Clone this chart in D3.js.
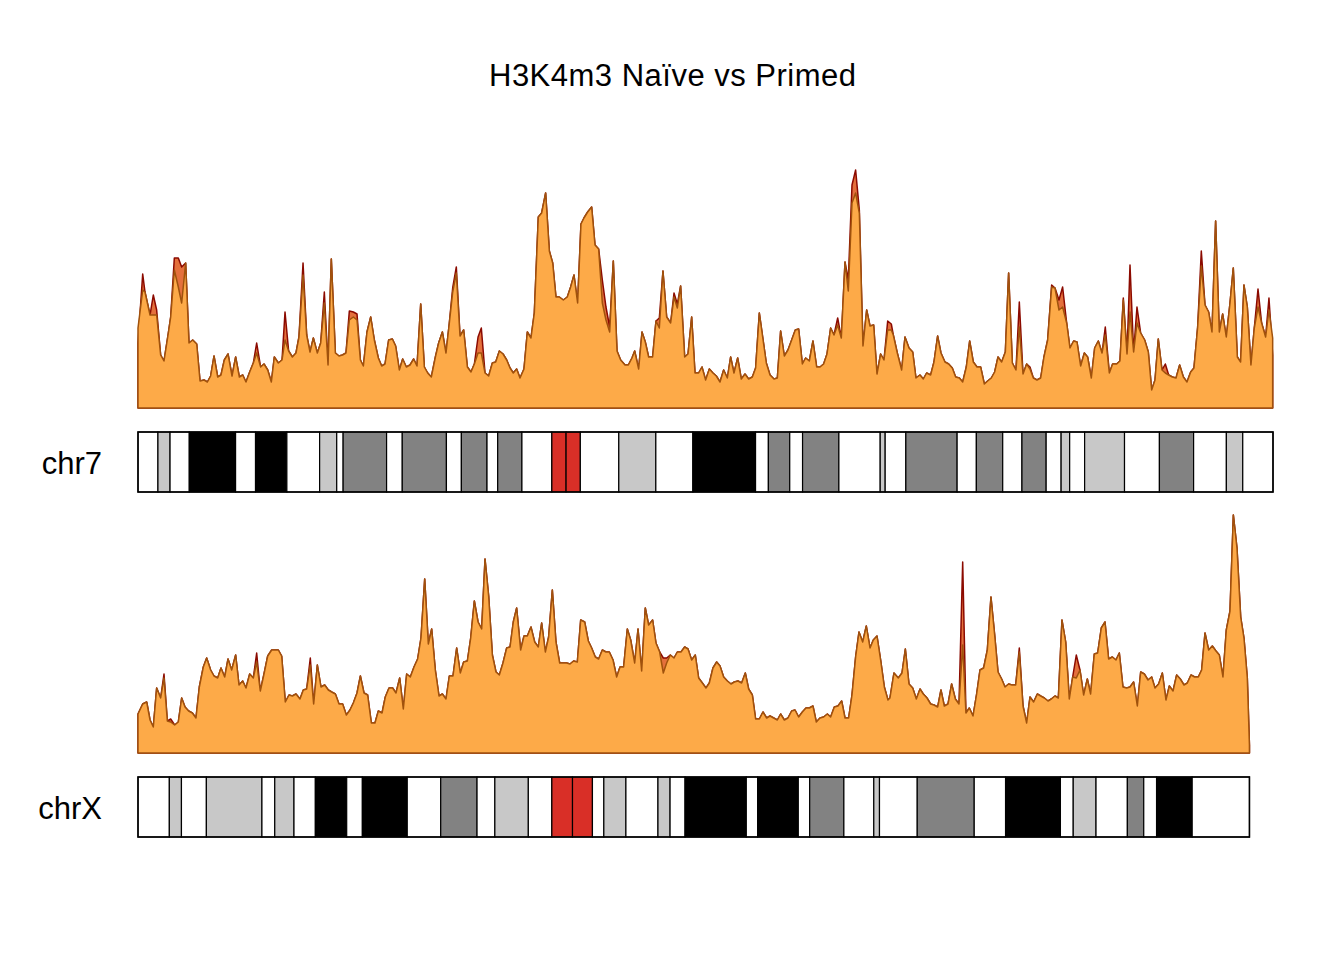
<!DOCTYPE html>
<html>
<head>
<meta charset="utf-8">
<script src="https://cdn.jsdelivr.net/npm/d3@7"></script>
<style>
  html, body { margin: 0; padding: 0; background: #ffffff; }
  svg { display: block; }
  text { font-family: "Liberation Sans", Arial, Helvetica, sans-serif; fill: #000; }
</style>
</head>
<body>
<svg id="chart" width="1344" height="960"></svg>
<script>
// ---------------- DATA ----------------
const title = "H3K4m3 Naïve vs Primed";
const chromNames = ["chr7", "chrX"];
const chromLengths = [159.345973, 156.040895]; // Mb (hg38)

// chr7 cytobands (end positions in Mb, stains)
const chr7BandEnd = [2.8, 4.5, 7.2, 13.7, 16.5, 20.9, 25.5, 27.9, 28.8, 34.9, 37.1, 43.3, 45.4, 49.0, 50.5, 53.9, 58.1, 60.1, 62.1, 67.5, 72.7, 77.9, 86.7, 88.5, 91.5, 93.3, 98.4, 104.2, 104.9, 107.8, 115.0, 117.7, 121.4, 124.1, 127.5, 129.6, 130.8, 132.9, 138.5, 143.4, 148.2, 152.8, 155.1, 159.345973];
const chr7BandStain = ["gneg","gpos25","gneg","gpos100","gneg","gpos100","gneg","gpos50","gneg","gpos75","gneg","gpos75","gneg","gpos75","gneg","gpos75","gneg","acen","acen","gneg","gpos50","gneg","gpos100","gneg","gpos75","gneg","gpos75","gneg","gpos50","gneg","gpos75","gneg","gpos75","gneg","gpos75","gneg","gpos25","gneg","gpos50","gneg","gpos75","gneg","gpos25","gneg"];

// chrX cytobands
const chrXBandEnd = [4.4, 6.1, 9.6, 17.4, 19.2, 21.9, 24.9, 29.3, 31.5, 37.8, 42.5, 47.6, 50.1, 54.8, 58.1, 61.0, 63.8, 65.4, 68.5, 73.0, 74.7, 76.8, 85.4, 87.0, 92.7, 94.3, 99.1, 103.3, 104.1, 109.4, 117.4, 121.8, 129.5, 131.3, 134.5, 138.9, 141.2, 143.0, 148.0, 156.040895];
const chrXBandStain = ["gneg","gpos50","gneg","gpos50","gneg","gpos50","gneg","gpos100","gneg","gpos100","gneg","gpos75","gneg","gpos25","gneg","acen","acen","gneg","gpos50","gneg","gpos50","gneg","gpos100","gneg","gpos100","gneg","gpos75","gneg","gpos50","gneg","gpos75","gneg","gpos100","gneg","gpos25","gneg","gpos75","gneg","gpos100","gneg"];

// chr7 peak density (window positions in Mb; relative density values)
const chr7Pos = [
0,0.66,0.98,1.69,2.15,2.62,3.18,3.65,4.26,4.59,
5.10,5.66,6.13,6.69,7.16,7.68,8.24,8.71,9.27,9.74,
10.20,10.67,11.19,11.65,12.12,12.64,13.20,13.71,14.23,14.70,
15.16,15.68,16.19,16.66,17.22,17.69,18.21,18.72,19.14,19.70,
20.22,20.64,21.15,21.67,22.18,22.60,23.17,23.68,24.15,24.62,
25.18,25.65,26.16,26.68,27.14,27.71,28.22,28.71,29.20,29.67,
30.23,30.75,31.22,31.64,32.15,32.67,33.18,33.74,34.21,34.68,
35.19,35.71,36.17,36.69,37.16,37.67,38.19,38.70,39.17,39.69,
40.20,40.67,41.18,41.75,42.21,42.73,43.24,43.71,44.18,44.69,
45.21,45.72,46.24,46.75,47.22,47.74,48.20,48.72,49.23,49.75,
50.22,50.73,51.25,51.76,
52.23,52.69,53.16,53.63,54.19,54.66,55.17,55.64,56.20,56.67,
57.23,57.75,58.22,58.68,59.15,59.71,60.27,60.74,61.21,61.72,
62.19,62.61,63.13,63.69,64.16,64.67,65.19,65.70,66.22,66.73,
67.25,67.76,68.37,68.84,69.35,69.73,70.29,70.76,71.22,71.69,
72.25,72.72,73.19,73.70,74.22,74.78,75.25,75.72,76.18,76.75,
77.22,77.73,78.20,78.71,79.18,79.69,80.21,80.72,81.19,81.71,
82.22,82.74,83.20,83.67,84.19,84.70,85.22,85.73,86.25,86.71,
87.23,87.70,88.21,88.73,89.29,89.76,90.22,90.74,91.25,91.77,
92.28,92.75,93.27,93.73,94.25,94.76,95.28,95.75,96.26,96.73,
97.24,97.71,98.23,98.74,99.26,99.72,100.24,100.75,101.27,101.78,
102.30,102.77,103.28,103.75,104.26,104.73,105.25,105.76,
106.04,106.60,107.21,107.68,108.24,108.76,109.22,109.78,110.25,110.72,
111.28,111.75,112.26,112.73,113.29,113.81,114.32,114.79,115.31,115.78,
116.29,116.76,117.27,117.79,118.30,118.82,119.28,119.80,120.27,120.74,
121.25,121.77,122.23,122.75,123.26,123.73,124.25,124.76,125.23,125.70,
126.21,126.73,127.19,127.71,128.27,128.74,129.30,129.81,130.38,130.84,
131.36,131.83,132.34,132.86,133.32,133.84,134.31,134.82,135.34,135.80,
136.37,136.83,137.40,137.86,138.33,138.85,139.27,139.78,140.25,140.77,
141.33,141.84,142.31,142.78,143.24,143.76,144.23,144.70,145.21,145.73,
146.24,146.76,147.27,147.79,148.25,148.77,149.28,149.80,150.31,150.78,
151.29,151.81,152.28,152.79,153.31,153.77,154.34,154.80,155.27,155.74,
156.25,156.72,157.24,157.75,158.31,158.78,159.30
];
const chr7Primed = [
80,118,116,93,93,93,53,47,75,91,
138,121,105,145,65,68,64,27,28,26,
32,52,31,33,48,54,32,51,31,33,
26,36,45,55,41,44,38,26,51,45,
48,68,57,51,55,71,133,73,56,70,
55,65,105,43,149,55,52,53,55,88,
91,88,48,42,76,91,68,50,42,44,
68,69,62,38,49,41,43,49,42,104,
41,35,31,51,65,76,55,85,116,135,
72,78,41,36,44,55,55,35,32,45,
46,57,54,48,
40,35,39,30,39,76,70,95,191,195,
215,157,145,111,111,108,111,121,133,105,
184,190,196,201,163,159,105,88,76,147,
57,48,43,43,50,57,39,76,66,51,
51,87,80,137,91,85,111,100,122,51,
54,91,35,35,41,28,39,35,32,26,
38,30,51,35,50,29,34,29,31,40,
95,71,45,33,29,30,77,52,58,68,
78,79,44,50,47,67,41,41,44,54,
80,73,83,70,146,117,205,215,195,62,
98,82,83,34,54,48,78,78,
73,55,38,71,60,56,30,33,29,35,
33,46,72,55,46,44,40,31,30,26,
41,67,46,41,41,24,27,30,36,51,
46,56,135,45,38,81,34,44,39,30,
28,30,51,68,121,120,98,101,85,60,
67,66,42,55,51,30,60,67,55,73,
35,44,44,47,108,54,96,56,85,75,
68,56,18,28,69,38,35,33,31,30,
43,31,26,36,40,81,142,103,96,76,
187,76,94,71,105,140,51,46,123,101,
43,80,101,85,71,98,70
];
const chr7Naive = [
65,134,116,93,113,98,53,47,75,91,
150,150,141,145,65,68,64,27,28,26,
32,52,31,33,48,54,32,51,31,33,
26,36,45,65,41,44,38,26,51,45,
48,96,57,51,55,71,145,73,56,70,
55,65,116,43,149,55,52,53,55,97,
96,94,48,42,76,91,68,50,42,44,
68,69,62,38,49,41,43,49,42,104,
41,35,31,51,65,76,55,85,120,141,
72,78,41,36,44,71,80,35,32,45,
46,57,54,48,
40,35,39,30,39,76,70,95,191,195,
215,157,145,111,111,108,111,121,133,105,
184,190,196,201,163,159,128,101,81,147,
57,48,43,43,50,57,39,76,66,51,
51,87,90,137,91,85,115,104,122,51,
54,91,35,35,41,28,39,35,32,26,
38,30,51,35,50,29,34,29,31,40,
95,71,45,33,29,30,77,52,58,68,
78,79,44,50,47,67,41,41,44,54,
80,73,90,70,146,128,223,238,198,62,
98,82,83,34,54,48,87,84,
73,55,38,71,60,56,30,33,29,35,
33,46,72,55,46,44,40,31,30,26,
41,67,46,41,41,24,27,30,36,51,
46,56,135,45,38,106,34,44,41,30,
28,30,51,68,123,120,108,121,85,60,
67,66,42,55,51,30,60,67,55,81,
35,44,44,47,110,54,143,56,101,75,
68,56,18,28,69,38,44,33,31,30,
43,31,26,36,40,81,157,103,96,76,
187,76,94,71,105,140,51,46,123,101,
43,80,119,85,71,110,53
];

// chrX peak density
const chrXPos = [
0,0.66,1.22,1.69,2.15,2.62,3.18,3.65,4.12,4.59,
5.15,5.66,6.13,6.60,7.11,7.63,8.14,8.61,9.17,9.64,
10.20,10.67,11.19,11.65,12.17,12.64,13.15,13.71,14.18,14.70,
15.16,15.68,16.19,16.66,17.17,17.69,18.21,18.77,19.23,19.70,
20.17,20.68,21.20,21.67,22.18,22.74,23.21,23.68,24.19,24.66,
25.18,25.69,26.21,26.72,27.19,27.71,28.22,28.73,29.25,29.76,
30.23,30.75,31.22,31.73,32.24,32.76,33.27,33.74,34.26,34.72,
35.24,35.75,36.22,36.74,37.25,37.72,38.23,38.75,39.26,39.73,
40.25,40.76,41.23,41.74,42.26,42.73,43.24,43.71,44.22,44.74,
45.25,45.72,46.24,46.71,47.22,47.74,48.25,48.72,49.23,49.75,
50.26,50.73,51.24,51.76,
52.23,52.69,53.16,53.72,54.19,54.66,55.17,55.69,56.20,56.67,
57.19,57.65,58.17,58.68,59.20,59.71,60.18,60.65,61.16,61.68,
62.15,62.71,63.22,63.69,64.20,64.67,65.19,65.70,66.17,66.69,
67.20,67.67,68.18,68.70,69.17,69.73,70.20,70.71,71.22,71.69,
72.25,72.72,73.24,73.75,74.22,74.73,75.25,75.72,76.23,76.75,
77.22,77.73,78.24,78.71,79.23,79.74,80.21,80.72,81.24,81.71,
82.22,82.74,83.25,83.72,84.23,84.75,85.26,85.73,86.25,86.71,
87.23,87.74,88.26,88.73,89.24,89.76,90.22,90.74,91.25,91.77,
92.24,92.75,93.27,93.78,94.25,94.76,95.23,95.75,96.26,96.78,
97.24,97.76,98.27,98.79,99.26,99.77,100.24,100.75,101.22,101.74,
102.25,102.77,103.23,103.75,104.26,104.78,105.29,
105.57,106.13,106.74,107.26,107.73,108.24,108.76,109.27,109.79,110.25,
110.77,111.28,111.75,112.27,112.73,113.20,113.72,114.23,114.75,115.26,
115.78,116.24,116.71,117.23,117.74,118.21,118.72,119.24,119.75,120.27,
120.74,121.25,121.72,122.23,122.70,123.22,123.73,124.25,124.76,125.23,
125.74,126.26,126.73,127.24,127.76,128.22,128.74,129.21,129.72,130.24,
130.75,131.22,131.73,132.25,132.76,133.28,133.74,134.26,134.73,135.24,
135.76,136.27,136.79,137.30,137.77,138.28,138.80,139.27,139.78,140.30,
140.77,141.28,141.80,142.31,142.78,143.29,143.81,144.32,144.79,145.31,
145.82,146.33,146.85,147.32,147.83,148.35,148.86,149.33,149.80,150.31,
150.83,151.34,151.81,152.32,152.79,153.31,153.78,154.29,154.81,155.27,
155.74,156.04
];
const chrXPrimed = [
39,49,51,33,26,65,55,75,32,31,
28,31,55,46,42,40,35,66,86,95,
83,77,75,85,76,94,83,98,68,72,
65,79,75,91,62,79,97,103,103,103,
97,51,58,57,59,54,63,64,88,49,
88,66,68,63,61,59,49,49,38,43,
50,60,77,60,58,30,30,42,40,56,
65,65,60,75,44,79,76,86,94,115,
174,109,124,83,57,59,54,77,77,105,
80,91,92,115,152,131,124,194,157,98,
81,78,90,105,
106,131,145,103,117,117,126,111,106,130,
101,116,163,111,90,90,90,89,92,91,
133,131,112,105,96,94,103,101,101,93,
76,86,86,124,113,90,124,82,145,128,
133,110,101,80,90,98,95,101,101,106,
104,93,98,75,70,65,70,85,91,87,
76,72,69,71,72,70,80,64,58,34,
34,41,35,37,35,33,39,33,35,42,
43,36,41,45,45,47,31,35,36,39,
36,46,47,52,35,35,58,96,121,111,
127,105,113,117,93,66,53,
55,80,75,80,104,69,65,54,64,59,
55,49,48,46,63,47,49,69,54,49,
108,40,45,37,59,83,85,103,156,118,
81,74,66,69,68,68,101,47,30,56,
51,59,57,55,52,54,57,55,133,111,
54,76,75,83,58,74,59,99,100,125,
131,94,96,93,100,66,65,66,71,47,
81,79,73,76,65,69,80,53,67,62,
78,74,68,70,78,76,76,83,120,103,
107,102,98,76,123,142,238,205,136,115,
75,8
];
const chrXNaive = [
39,49,51,33,26,65,55,79,32,34,
28,31,55,46,42,40,35,66,86,95,
83,77,75,85,76,94,83,98,68,72,
65,79,75,100,62,79,97,103,103,103,
97,51,58,57,59,54,63,64,95,49,
88,66,68,63,61,59,49,49,38,43,
50,60,77,60,58,30,30,42,40,56,
65,65,60,75,44,79,76,86,94,115,
174,109,124,83,57,59,54,77,77,105,
80,91,92,115,152,131,124,194,157,98,
81,78,90,105,
106,131,145,103,117,117,126,111,106,130,
101,116,163,111,90,90,90,89,92,91,
133,131,112,105,96,94,103,101,101,93,
76,86,86,124,113,90,124,82,145,128,
133,110,101,95,95,98,95,101,101,106,
104,93,98,75,70,65,70,85,91,87,
76,72,69,71,72,70,80,64,58,34,
34,41,35,37,35,33,39,33,35,42,
43,36,41,45,45,47,31,35,36,39,
36,46,47,52,35,35,58,96,121,111,
127,105,113,117,93,66,53,
55,80,75,80,104,69,65,54,64,59,
55,49,48,46,63,47,49,69,54,49,
191,40,45,37,59,83,85,103,156,118,
81,74,66,69,68,68,105,47,30,56,
51,59,57,55,52,54,57,55,133,111,
54,76,98,83,58,74,59,99,100,125,
131,94,96,93,100,66,65,66,71,47,
81,79,73,76,65,69,80,53,67,62,
78,74,68,70,78,76,76,83,120,103,
107,102,98,76,123,142,238,205,136,115,
75,8
];
const densityMax = 238;

// ---------------- DRAWING ----------------
const svg = d3.select("#chart");
const stainColor = {
  gneg: "#FFFFFF", gpos25: "#C8C8C8", gpos50: "#C8C8C8", gpos75: "#828282",
  gpos100: "#000000", acen: "#D92F27", gvar: "#DCDCDC", stalk: "#647FA4"
};

const x = d3.scaleLinear().domain([0, chromLengths[0]]).range([138, 1273]);

svg.append("text")
  .attr("x", 672.5).attr("y", 86)
  .attr("text-anchor", "middle")
  .attr("font-size", 31)
  .attr("textLength", 367)
  .attr("lengthAdjust", "spacing")
  .text(title);

const panels = [
  { name: chromNames[0], len: chromLengths[0], pos: chr7Pos, primed: chr7Primed, naive: chr7Naive,
    bandEnd: chr7BandEnd, bandStain: chr7BandStain, base: 408, top: 170, ideoTop: 432, labelY: 474 },
  { name: chromNames[1], len: chromLengths[1], pos: chrXPos, primed: chrXPrimed, naive: chrXNaive,
    bandEnd: chrXBandEnd, bandStain: chrXBandStain, base: 753, top: 515, ideoTop: 777, labelY: 819 }
];
const ideoH = 60;

panels.forEach(p => {
  const y = d3.scaleLinear().domain([0, densityMax]).range([p.base, p.top]);
  const g = svg.append("g");

  const mk = vals => d3.area()
    .x((d, i) => x(p.pos[i]))
    .y0(y(0))
    .y1((d) => y(d))(vals);

  // naive (drawn first) then primed on top
  g.append("path").attr("d", mk(p.naive))
    .attr("fill", "#E4703C").attr("stroke", "#8B0A00")
    .attr("stroke-width", 1.5).attr("stroke-linejoin", "round");
  g.append("path").attr("d", mk(p.primed))
    .attr("fill", "#FDAA48").attr("stroke", "#A0520C")
    .attr("stroke-width", 1.5).attr("stroke-linejoin", "round");

  // ideogram
  const bands = p.bandEnd.map((e, i) => ({ start: i === 0 ? 0 : p.bandEnd[i - 1], end: e, stain: p.bandStain[i] }));
  const ig = svg.append("g");
  ig.selectAll("rect.band").data(bands).enter().append("rect")
    .attr("class", "band")
    .attr("x", d => x(d.start))
    .attr("y", p.ideoTop)
    .attr("width", d => x(d.end) - x(d.start))
    .attr("height", ideoH)
    .attr("fill", d => stainColor[d.stain])
    .attr("stroke", "#000").attr("stroke-width", 1.2);
  ig.append("rect")
    .attr("x", x(0)).attr("y", p.ideoTop)
    .attr("width", x(p.len) - x(0)).attr("height", ideoH)
    .attr("fill", "none").attr("stroke", "#000").attr("stroke-width", 1.5);

  svg.append("text")
    .attr("x", 102).attr("y", p.labelY)
    .attr("text-anchor", "end")
    .attr("font-size", 31)
    .text(p.name);
});
</script>
</body>
</html>
